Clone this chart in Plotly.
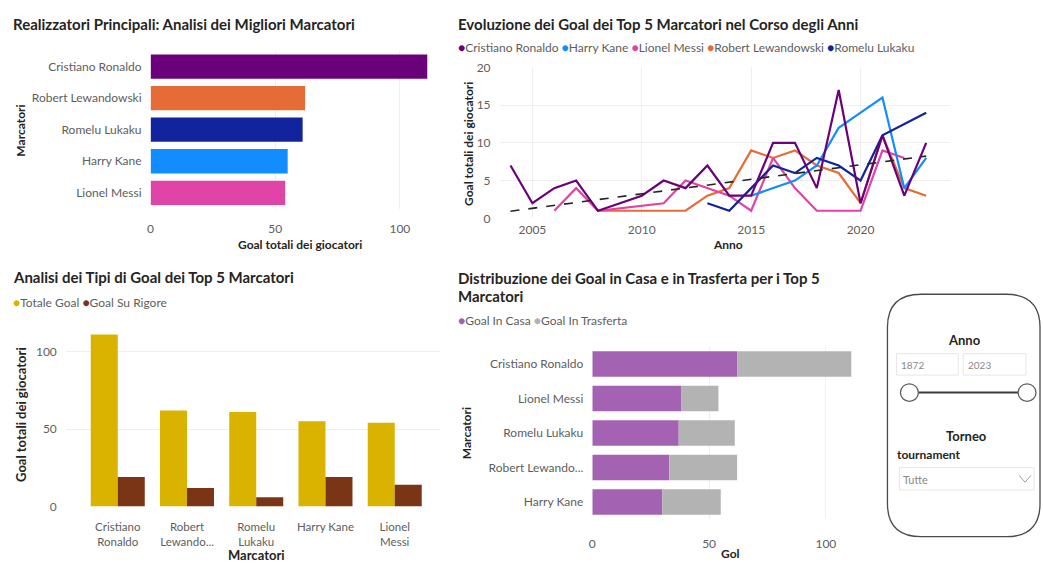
import numpy as np
import plotly.graph_objects as go

W, H = 1043, 570

# ---------------- data ----------------
players = ["Cristiano Ronaldo", "Robert Lewandowski", "Romelu Lukaku", "Harry Kane", "Lionel Messi"]
total_goals = [111, 62, 61, 55, 54]
penalty_goals = [19, 12, 6, 19, 14]
player_labels_short = ["Cristiano<br>Ronaldo", "Robert<br>Lewando...", "Romelu<br>Lukaku", "Harry Kane", "Lionel<br>Messi"]

home_away_players = ["Cristiano Ronaldo", "Lionel Messi", "Romelu Lukaku", "Robert Lewando...", "Harry Kane"]
home_goals = [62, 38, 37, 33, 30]
away_goals = [49, 16, 24, 29, 25]

ronaldo_years = [2004, 2005, 2006, 2007, 2008, 2009, 2010, 2011, 2012, 2013, 2014, 2015, 2016, 2017, 2018, 2019, 2020, 2021, 2022, 2023]
ronaldo_goals = [7, 2, 4, 5, 1, 2, 3, 5, 4, 7, 3, 3, 10, 10, 4, 17, 2, 11, 3, 10]
kane_years = [2015, 2016, 2017, 2018, 2019, 2020, 2021, 2022, 2023]
kane_goals = [3, 4, 5, 7, 12, 14, 16, 4, 8]
messi_years = [2006, 2007, 2008, 2011, 2012, 2013, 2014, 2015, 2016, 2017, 2018, 2019, 2020, 2021, 2022]
messi_goals = [1, 4, 1, 2, 5, 4, 3, 1, 8, 4, 1, 1, 1, 9, 8]
lewy_years = [2008, 2009, 2010, 2011, 2012, 2013, 2014, 2015, 2016, 2017, 2018, 2019, 2020, 2021, 2022, 2023]
lewy_goals = [1, 1, 1, 1, 1, 3, 4, 9, 8, 9, 7, 6, 2, 11, 4, 3]
lukaku_years = [2013, 2014, 2015, 2016, 2017, 2018, 2019, 2020, 2021, 2023]
lukaku_goals = [2, 1, 4, 7, 6, 8, 7, 5, 11, 14]

slider_min, slider_max = "1872", "2023"
tournament_value = "Tutte"

# ---------------- styling ----------------
C_RONALDO = "#6B007B"
C_LEWY = "#E66C37"
C_LUKAKU = "#12239E"
C_KANE = "#118DFF"
C_MESSI = "#E044A7"
C_TOTAL = "#D9B300"
C_PEN = "#7A3416"
C_HOME = "#A463B2"
C_AWAY = "#B3B3B3"

TITLE_C = "#252423"
TICK_C = "#605E5C"
GRID_C = "#EFEFEF"
FONT = "Lato"


def px(x):
    return x / W


def py(y):
    return 1 - y / H


def dom_x(a, b):
    return [px(a), px(b)]


def dom_y(top, bottom):
    return [py(bottom), py(top)]


fig = go.Figure()

# ---- panel 1: total goals, horizontal bars ----
fig.add_trace(go.Bar(
    x=total_goals, y=players, orientation="h", width=0.77,
    marker=dict(color=[C_RONALDO, C_LEWY, C_LUKAKU, C_KANE, C_MESSI], line=dict(width=0)),
    xaxis="x", yaxis="y", showlegend=False,
))

# ---- panel 2: goals per year ----
line_series = [
    ("Cristiano Ronaldo", ronaldo_years, ronaldo_goals, C_RONALDO),
    ("Harry Kane", kane_years, kane_goals, C_KANE),
    ("Lionel Messi", messi_years, messi_goals, C_MESSI),
    ("Robert Lewandowski", lewy_years, lewy_goals, C_LEWY),
    ("Romelu Lukaku", lukaku_years, lukaku_goals, C_LUKAKU),
]
draw_order = [3, 2, 1, 4, 0]
for i in draw_order:
    name, xs, ys, col = line_series[i]
    fig.add_trace(go.Scatter(
        x=xs, y=ys, mode="lines", name=name,
        line=dict(color=col, width=2.2), xaxis="x2", yaxis="y2", showlegend=False,
    ))

# linear trend across all the yearly points
all_x = np.concatenate([np.array(s[1], float) for s in line_series])
all_y = np.concatenate([np.array(s[2], float) for s in line_series])
slope, intercept = np.polyfit(all_x, all_y, 1)
trend_x = np.array([min(all_x), max(all_x)])
fig.add_trace(go.Scatter(
    x=trend_x, y=slope * trend_x + intercept, mode="lines",
    line=dict(color="#252423", width=1.6, dash="dash"),
    xaxis="x2", yaxis="y2", showlegend=False,
))

# ---- panel 3: total vs penalty goals ----
cat_idx = list(range(len(players)))
fig.add_trace(go.Bar(
    x=cat_idx, y=total_goals, name="Totale Goal", width=0.39, offset=-0.39,
    marker=dict(color=C_TOTAL, line=dict(width=0)),
    xaxis="x3", yaxis="y3", showlegend=False,
))
fig.add_trace(go.Bar(
    x=cat_idx, y=penalty_goals, name="Goal Su Rigore", width=0.39, offset=0.0,
    marker=dict(color=C_PEN, line=dict(width=0)),
    xaxis="x3", yaxis="y3", showlegend=False,
))

# ---- panel 4: home / away stacked bars ----
fig.add_trace(go.Bar(
    x=home_goals, y=home_away_players, orientation="h", name="Goal In Casa",
    width=0.74, offset=-0.37,
    marker=dict(color=C_HOME, line=dict(width=0)), xaxis="x4", yaxis="y4", showlegend=False,
))
fig.add_trace(go.Bar(
    x=away_goals, y=home_away_players, base=home_goals, orientation="h", name="Goal In Trasferta",
    width=0.74, offset=-0.37,
    marker=dict(color=C_AWAY, line=dict(width=0)), xaxis="x4", yaxis="y4", showlegend=False,
))

tick_font = dict(family=FONT, size=12, color=TICK_C)
axis_common = dict(showline=False, zeroline=False, ticks="", fixedrange=True)

fig.update_layout(
    width=W, height=H,
    margin=dict(l=0, r=0, t=0, b=0),
    paper_bgcolor="white", plot_bgcolor="white",
    font=dict(family=FONT, color=TITLE_C),
    barmode="overlay",
    # panel 1
    xaxis=dict(domain=dom_x(148, 428), range=[0, 112], anchor="y", tickvals=[0, 50, 100],
               showgrid=True, gridcolor=GRID_C, ticklabelstandoff=11, tickfont=tick_font,
               **axis_common),
    yaxis=dict(domain=dom_y(44, 206), anchor="x", autorange="reversed", type="category",
               categoryorder="array", categoryarray=players, showgrid=False,
               ticklabelstandoff=8, tickfont=tick_font, **axis_common),
    # panel 2
    xaxis2=dict(domain=dom_x(498, 950), range=[2003.5, 2024.1], anchor="y2",
                tickvals=[2005, 2010, 2015, 2020], showgrid=True, gridcolor=GRID_C,
                ticklabelstandoff=3, tickfont=tick_font, **axis_common),
    yaxis2=dict(domain=dom_y(61, 216), range=[0, 20], anchor="x2", tickvals=[0, 5, 10, 15, 20],
                showgrid=True, gridcolor=GRID_C, ticklabelstandoff=8, tickfont=tick_font,
                **axis_common),
    # panel 3
    xaxis3=dict(domain=dom_x(63, 438), range=[-0.75, 4.65], anchor="y3",
                tickvals=cat_idx, ticktext=player_labels_short, showgrid=False,
                ticklabelstandoff=12, tickfont=dict(family=FONT, size=11.5, color=TICK_C),
                **axis_common),
    yaxis3=dict(domain=dom_y(321, 512), range=[0, 120], anchor="x3", tickvals=[0, 50, 100],
                showgrid=True, gridcolor=GRID_C, ticklabelstandoff=8, tickfont=tick_font,
                **axis_common),
    # panel 4
    xaxis4=dict(domain=dom_x(591, 851), range=[0, 111], anchor="y4", tickvals=[0, 50, 100],
                showgrid=True, gridcolor=GRID_C, ticklabelstandoff=16, tickfont=tick_font,
                **axis_common),
    yaxis4=dict(domain=dom_y(348, 525), anchor="x4", autorange="reversed", type="category",
                categoryorder="array", categoryarray=home_away_players, showgrid=False,
                ticklabelstandoff=8, tickfont=tick_font, **axis_common),
)

annotations = []


def text(x, y, s, size=11, color=TITLE_C, bold=False, xanchor="left", angle=0, family=FONT):
    annotations.append(dict(
        x=px(x), y=py(y), xref="paper", yref="paper", text=f"<b>{s}</b>" if bold else s,
        showarrow=False, xanchor=xanchor, yanchor="middle", textangle=angle,
        font=dict(family=family, size=size, color=color),
    ))


def legend_text(items):
    return " ".join(f'<span style="color:{c}">●</span>{n}' for n, c in items)


# titles
text(8, 16, "Realizzatori Principali: Analisi dei Migliori Marcatori", 15, bold=True)
text(454, 16, "Evoluzione dei Goal dei Top 5 Marcatori nel Corso degli Anni", 15, bold=True)
text(8, 276, "Analisi dei Tipi di Goal dei Top 5 Marcatori", 15, bold=True)
text(454, 277, "Distribuzione dei Goal in Casa e in Trasferta per i Top 5", 15, bold=True)
text(454, 296, "Marcatori", 15, bold=True)

# legends
text(454, 41, legend_text([(s[0], s[3]) for s in line_series]), 12, color=TICK_C)
text(8, 302, legend_text([("Totale Goal", C_TOTAL), ("Goal Su Rigore", C_PEN)]), 12, color=TICK_C)
text(454, 321, legend_text([("Goal In Casa", C_HOME), ("Goal In Trasferta", C_AWAY)]), 12, color=TICK_C)

# axis titles
text(18, 126, "Marcatori", 12, bold=True, xanchor="center", angle=-90)
text(298, 243, "Goal totali dei giocatori", 12, bold=True, xanchor="center")
text(467, 140, "Goal totali dei giocatori", 12, bold=True, xanchor="center", angle=-90)
text(727, 243, "Anno", 12, bold=True, xanchor="center")
text(18, 417, "Goal totali dei giocatori", 13, bold=True, xanchor="center", angle=-90)
text(254, 562, "Marcatori", 13, bold=True, xanchor="center")
text(465, 437, "Marcatori", 12, bold=True, xanchor="center", angle=-90)
text(730, 560, "Gol", 12, bold=True, xanchor="center")

# slicer card content
text(964, 341, "Anno", 13, bold=True, xanchor="center")
text(899, 367, slider_min, 10, color="#8A8886")
text(966, 367, slider_max, 10, color="#8A8886")
text(966, 440, "Torneo", 13, bold=True, xanchor="center")
text(895, 459, "tournament", 12, bold=True)
text(901, 484, tournament_value, 11, color="#8A8886")

fig.update_layout(annotations=annotations)

shapes = []
# rounded card outline
x0, x1, y0, y1, r = 887, 1040, 294, 543, 34
path = (f"M {px(x0 + r)} {py(y0)} L {px(x1 - r)} {py(y0)} "
        f"Q {px(x1)} {py(y0)} {px(x1)} {py(y0 + r)} "
        f"L {px(x1)} {py(y1 - r)} Q {px(x1)} {py(y1)} {px(x1 - r)} {py(y1)} "
        f"L {px(x0 + r)} {py(y1)} Q {px(x0)} {py(y1)} {px(x0)} {py(y1 - r)} "
        f"L {px(x0)} {py(y0 + r)} Q {px(x0)} {py(y0)} {px(x0 + r)} {py(y0)} Z")
shapes.append(dict(type="path", path=path, xref="paper", yref="paper",
                   line=dict(color="#4A4A4A", width=1.3)))
# range input boxes
for bx0, bx1 in [(896, 958), (963, 1026)]:
    shapes.append(dict(type="rect", xref="paper", yref="paper", x0=px(bx0), x1=px(bx1),
                       y0=py(377), y1=py(355), line=dict(color="#E6E6E6", width=1)))
# slider track and handles
shapes.append(dict(type="line", xref="paper", yref="paper", x0=px(908), x1=px(1027),
                   y0=py(395), y1=py(395), line=dict(color="#3B3A39", width=2)))
for cx in [909, 1027]:
    shapes.append(dict(type="circle", xref="paper", yref="paper", x0=px(cx - 9), x1=px(cx + 9),
                       y0=py(404), y1=py(386), fillcolor="white",
                       line=dict(color="#605E5C", width=1.3)))
# dropdown box and chevron
shapes.append(dict(type="rect", xref="paper", yref="paper", x0=px(899), x1=px(1034),
                   y0=py(495), y1=py(472), line=dict(color="#E6E6E6", width=1)))
shapes.append(dict(type="path", xref="paper", yref="paper",
                   path=f"M {px(1019)} {py(480)} L {px(1025)} {py(487)} L {px(1031)} {py(480)}",
                   line=dict(color="#A19F9D", width=1)))
fig.update_layout(shapes=shapes)

fig.write_html("out.html")
